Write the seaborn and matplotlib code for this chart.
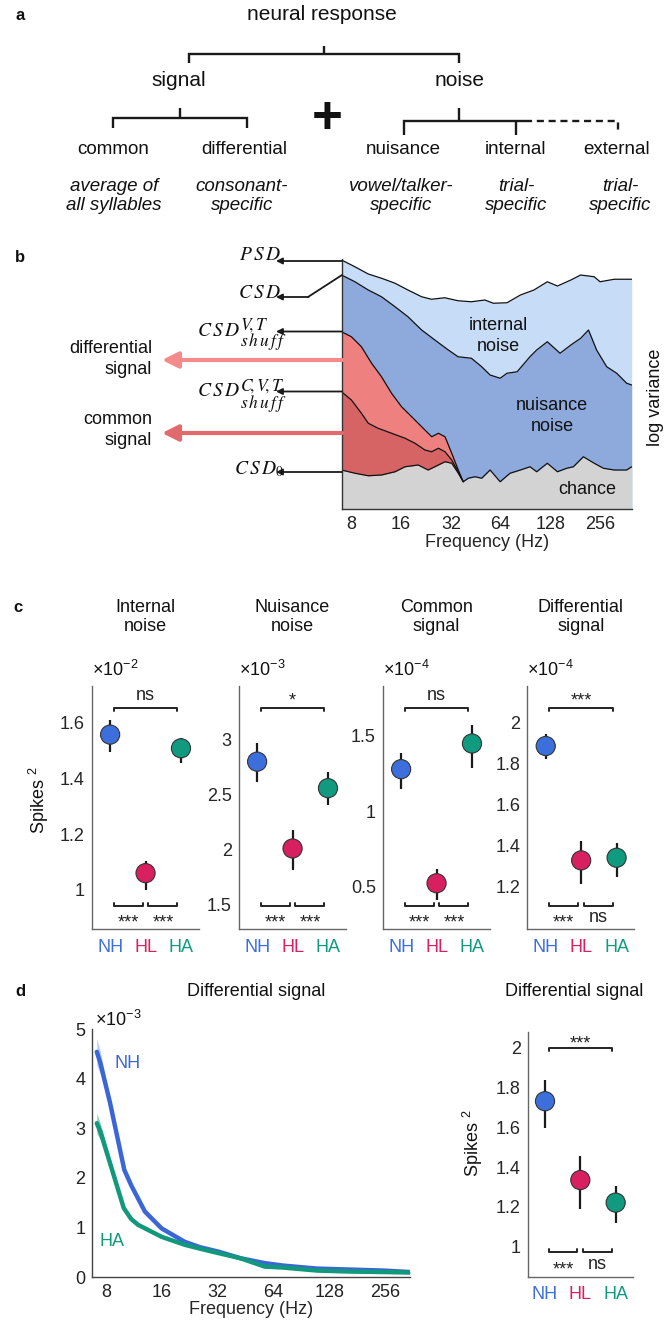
import numpy as np
import matplotlib
matplotlib.use('Agg')
import matplotlib.pyplot as plt
import matplotlib.transforms as mtransforms
from matplotlib.ticker import FormatStrFormatter, NullFormatter
import seaborn as sns

# ---------------- data ----------------
groups = ['NH', 'HL', 'HA']
group_colors = ['#3d6fdc', '#d81f5f', '#109a80']

# panel b: schematic spectra (log variance, arbitrary units)
psd_freq = [6.97, 8.40, 10.12, 12.17, 14.7, 17.6, 21.3, 24.4, 29.4, 35.4, 42.6, 51.4, 57.9, 70.0,
            84.4, 101.9, 122.8, 141.4, 170.5, 195.5, 236, 256, 312, 398]
psd_logvar = [9.96, 9.69, 9.40, 9.23, 9.03, 8.76, 8.49, 8.39, 8.45, 8.33, 8.29, 8.36, 8.23, 8.25,
              8.56, 8.76, 9.09, 8.92, 9.16, 9.36, 9.29, 9.09, 9.19, 9.19]
csd_freq = [6.97, 8.40, 10.12, 12.17, 14.7, 17.6, 21.3, 25.6, 30.9, 35.4, 42.6, 49.2, 55.3, 63.6,
            70.0, 80.6, 96.4, 105.9, 122.8, 146.6, 170.5, 195.5, 218, 244, 281, 323, 371, 398]
csd_logvar = [9.36, 9.09, 8.76, 8.49, 8.09, 7.69, 7.16, 6.76, 6.36, 6.09, 6.03, 5.69, 5.36, 5.23,
              5.43, 5.49, 6.09, 6.36, 6.69, 6.23, 6.56, 6.83, 7.16, 6.36, 5.69, 5.43, 5.03, 4.96]
vt_freq = [6.97, 8.0, 9.2, 10.6, 12.17, 14.0, 16.1, 19.4, 22.3, 24.5, 26.9, 29.5, 32.4, 35.5, 38.0]
vt_logvar = [7.09, 6.89, 6.49, 5.83, 5.29, 4.63, 4.09, 3.56, 3.16, 2.89, 3.03, 2.89, 2.23, 1.56, 1.09]
cvt_freq = [6.97, 8.0, 9.2, 10.12, 11.6, 14.0, 16.9, 19.4, 22.3, 24.5, 26.9, 29.5, 32.4, 35.5, 38.0]
cvt_logvar = [4.69, 4.36, 3.83, 3.43, 3.23, 3.03, 2.83, 2.63, 2.36, 2.29, 2.43, 2.29, 1.96, 1.49, 1.09]
chance_freq = [6.97, 8.40, 10.12, 12.17, 14.7, 16.9, 20.3, 23.3, 25.6, 29.5, 32.4, 35.5, 38.0, 40.8,
               44.8, 49.2, 55.3, 63.6, 73.0, 84.4, 96.4, 105.9, 122.8, 141.4, 161, 176.5, 202.9,
               236, 268, 312, 371, 398]
chance_logvar = [1.56, 1.43, 1.33, 1.36, 1.49, 1.69, 1.76, 1.56, 1.69, 1.89, 1.83, 1.43, 1.09, 1.23,
                 1.29, 1.23, 1.56, 1.09, 1.43, 1.56, 1.69, 1.49, 1.83, 1.49, 1.63, 1.69, 2.09,
                 1.83, 1.63, 1.56, 1.56, 1.69]
b_ticks = [0.63, 1.49, 2.29, 3.09, 3.83, 4.69, 5.96, 7.09, 8.29, 9.36]

# panel c: mean and error-bar ends per group
internal_mean = [1.556, 1.06, 1.507]
internal_lo = [1.492, 1.0, 1.454]
internal_hi = [1.608, 1.102, 1.543]
nuisance_mean = [2.795, 2.009, 2.555]
nuisance_lo = [2.615, 1.817, 2.40]
nuisance_hi = [2.967, 2.172, 2.70]
common_mean = [1.279, 0.523, 1.449]
common_lo = [1.146, 0.41, 1.288]
common_hi = [1.389, 0.616, 1.569]
diffc_mean = [1.886, 1.326, 1.339]
diffc_lo = [1.824, 1.211, 1.246]
diffc_hi = [1.943, 1.42, 1.41]

# panel d: differential signal spectra (x1e-3)
nh_freq = [7.16, 7.5, 8.44, 10.07, 11.0, 13.0, 16.0, 21.3, 25.8, 32.5, 42.4, 57.5, 72.5, 109.7, 165.8, 251, 349]
nh_spec = [4.54, 4.30, 3.51, 2.16, 1.84, 1.32, 0.98, 0.71, 0.60, 0.51, 0.38, 0.28, 0.23, 0.17, 0.15, 0.13, 0.10]
nh_sem = [0.27, 0.22, 0.05, 0.04, 0.03, 0.03, 0.03, 0.02, 0.02, 0.02, 0.02, 0.02, 0.02, 0.02, 0.02, 0.02, 0.02]
ha_freq = [7.16, 7.5, 10.0, 10.96, 11.97, 16.0, 21.3, 25.8, 32.5, 42.4, 57.5, 72.5, 109.7, 165.8, 251, 349]
ha_spec = [3.10, 2.92, 1.39, 1.17, 1.05, 0.81, 0.65, 0.57, 0.48, 0.38, 0.21, 0.19, 0.13, 0.11, 0.10, 0.09]
ha_sem = [0.20, 0.16, 0.04, 0.03, 0.03, 0.03, 0.02, 0.02, 0.02, 0.02, 0.02, 0.02, 0.02, 0.02, 0.02, 0.02]
diffd_mean = [1.731, 1.335, 1.222]
diffd_lo = [1.595, 1.19, 1.122]
diffd_hi = [1.837, 1.456, 1.307]

freq_ticks = [8, 16, 32, 64, 128, 256]

# ---------------- style ----------------
sns.set_theme(style='white')
plt.rcParams['font.family'] = ['Liberation Sans', 'DejaVu Sans']
plt.rcParams['mathtext.fontset'] = 'custom'
plt.rcParams['mathtext.rm'] = 'Liberation Sans'
plt.rcParams['mathtext.it'] = 'Liberation Sans:italic'
plt.rcParams['mathtext.bf'] = 'Liberation Sans:bold'
plt.rcParams['text.color'] = '#111111'

FS = 13
W, H = 668, 1325
fig = plt.figure(figsize=(W / 100, H / 100), dpi=100)


def add_ax(l, t, r, b):
    return fig.add_axes([l / W, 1 - b / H, (r - l) / W, (b - t) / H])


# overlay in pixel coordinates for diagram and annotations
ov = fig.add_axes([0, 0, 1, 1], zorder=10)
ov.set_xlim(0, W)
ov.set_ylim(H, 0)
ov.axis('off')
ov.patch.set_alpha(0)

# ---------------- panel a ----------------
ov.text(15, 15, 'a', fontsize=12, fontweight='bold', va='center')
ov.text(322, 15, 'neural response', fontsize=15, ha='center', va='center')
lk = dict(color='k', lw=1.7, solid_joinstyle='miter', solid_capstyle='butt')
ov.plot([189, 189, 459, 459], [63, 54, 54, 63], **lk)
ov.plot([324, 324], [54, 46], **lk)
ov.text(179, 80, 'signal', fontsize=15, ha='center', va='center')
ov.text(460, 80, 'noise', fontsize=15, ha='center', va='center')
ov.plot([113, 113, 247, 247], [128, 118, 118, 128], **lk)
ov.plot([180, 180], [118, 108], **lk)
ov.text(327, 119, '+', fontsize=38, fontweight='bold', ha='center', va='center')
ov.plot([404, 404, 525], [135, 121, 121], **lk)
ov.plot([459, 459], [121, 108], **lk)
ov.plot([516, 516], [121, 135], **lk)
ov.plot([525, 618, 618], [121, 121, 132], color='k', lw=1.7, ls=(0, (3, 2)))
for x, lab in zip([113, 244, 403, 515, 617], ['common', 'differential', 'nuisance', 'internal', 'external']):
    ov.text(x, 150, lab, fontsize=13.5, ha='center', va='center')
for x, lab in zip([114, 242, 401, 516, 620],
                  ['average of\nall syllables', 'consonant-\nspecific', 'vowel/talker-\nspecific',
                   'trial-\nspecific', 'trial-\nspecific']):
    ov.text(x, 196, lab, fontsize=13.5, style='italic', ha='center', va='center', linespacing=1.2)

# ---------------- panel b ----------------
axb = add_ax(341.5, 259, 631.7, 509)
axb.fill_between(psd_freq, 0, psd_logvar, color='#c6dcf7', lw=0)
axb.fill_between(csd_freq, 0, csd_logvar, color='#8eaadc', lw=0)
axb.fill_between(vt_freq, 0, vt_logvar, color='#ef8080', lw=0)
axb.fill_between(cvt_freq, 0, cvt_logvar, color='#d66464', lw=0)
axb.fill_between(chance_freq, 0, chance_logvar, color='#d3d3d3', lw=0)
for f, v in [(psd_freq, psd_logvar), (csd_freq, csd_logvar), (vt_freq, vt_logvar),
             (cvt_freq, cvt_logvar), (chance_freq, chance_logvar)]:
    sns.lineplot(x=f, y=v, color='#111111', lw=0.9, ax=axb, sort=False)
axb.set_xscale('log', base=2)
axb.set_xlim(6.97, 398)
axb.set_ylim(0, 10)
axb.set_xticks(freq_ticks)
axb.set_xticklabels([str(t) for t in freq_ticks])
axb.xaxis.set_minor_formatter(NullFormatter())
axb.set_yticks(b_ticks)
axb.set_yticklabels([])
axb.tick_params(direction='in', length=3, width=0.8, labelsize=FS, colors='#222222', pad=5)
axb.tick_params(axis='x', which='minor', length=0)
for s in ['top', 'right']:
    axb.spines[s].set_visible(False)
for s in ['left', 'bottom']:
    axb.spines[s].set_color('#333333')
    axb.spines[s].set_linewidth(1)
axb.set_xlabel('Frequency (Hz)', fontsize=FS, labelpad=1)
axb.set_ylabel('')

ov.text(15, 258, 'b', fontsize=12, fontweight='bold', va='center')
ak = dict(arrowstyle='-|>', color='k', lw=1.3, mutation_scale=9, shrinkA=0, shrinkB=0)
ov.annotate('', xy=(276, 261), xytext=(342, 261), arrowprops=ak)
ov.plot([342, 308], [275, 297], color='k', lw=1.3)
ov.annotate('', xy=(276, 297), xytext=(308.5, 297), arrowprops=ak)
ov.annotate('', xy=(276, 331.5), xytext=(342, 331.5), arrowprops=ak)
ov.annotate('', xy=(276, 391.5), xytext=(342, 391.5), arrowprops=ak)
ov.annotate('', xy=(276, 472), xytext=(342, 472), arrowprops=ak)
mk = dict(fontsize=14, math_fontfamily='stix', va='center')
ov.text(281, 256, r'$P\,S\,D$', ha='right', **mk)
ov.text(281, 293, r'$C\,S\,D$', ha='right', **mk)
ov.text(240, 332, r'$C\,S\,D$', ha='right', **mk)
ov.text(240, 325, r'$V\!,T$', ha='left', fontsize=12.5, math_fontfamily='stix', va='center')
ov.text(240, 342, r'$s\,h\,u\,f\,f$', ha='left', fontsize=12.5, math_fontfamily='stix', va='center')
ov.text(240, 392, r'$C\,S\,D$', ha='right', **mk)
ov.text(240, 386, r'$C\!,V\!,T$', ha='left', fontsize=12.5, math_fontfamily='stix', va='center')
ov.text(240, 403, r'$s\,h\,u\,f\,f$', ha='left', fontsize=12.5, math_fontfamily='stix', va='center')
ov.text(284, 469, r'$C\,S\,D_0$', ha='right', **mk)
ov.annotate('', xy=(162, 360), xytext=(342, 360),
            arrowprops=dict(arrowstyle='-|>', color='#f48a8a', lw=3, mutation_scale=24, shrinkA=0, shrinkB=0))
ov.annotate('', xy=(162, 433), xytext=(342, 433),
            arrowprops=dict(arrowstyle='-|>', color='#e06a6c', lw=3, mutation_scale=24, shrinkA=0, shrinkB=0))
ov.text(152, 359, 'differential\nsignal', fontsize=FS, ha='right', va='center', linespacing=1.25)
ov.text(152, 430, 'common\nsignal', fontsize=FS, ha='right', va='center', linespacing=1.25)
ov.text(498, 336, 'internal\nnoise', fontsize=FS, ha='center', va='center', linespacing=1.25)
ov.text(552, 416, 'nuisance\nnoise', fontsize=FS, ha='center', va='center', linespacing=1.25)
ov.text(587, 490, 'chance', fontsize=FS, ha='center', va='center')
ov.text(656, 397, 'log variance', fontsize=FS, ha='center', va='center', rotation=90)


# ---------------- point panels ----------------
def point_panel(ax, means, lo, hi, ylim, yticks, fmt, top_lab, bot_labs, top_px, bot_px, top_txt_px, bot_txt_px):
    xs = [1, 2, 3]
    ax.vlines(xs, lo, hi, color='#1a1a1a', lw=1.6, zorder=2)
    sns.scatterplot(x=xs, y=means, hue=groups, palette=group_colors, s=190,
                    edgecolor='#333333', linewidth=0.8, legend=False, ax=ax, zorder=3)
    ax.set_xlim(0.48, 3.5)
    ax.set_ylim(*ylim)
    ax.set_yticks(yticks)
    ax.yaxis.set_major_formatter(FormatStrFormatter(fmt))
    ax.set_xticks(xs)
    ax.set_xticklabels(groups)
    for t, c in zip(ax.get_xticklabels(), group_colors):
        t.set_color(c)
    ax.tick_params(direction='out', length=3, width=0.8, labelsize=FS, color='#555555', pad=2)
    ax.tick_params(axis='x', pad=4)
    for s in ['top', 'right']:
        ax.spines[s].set_visible(False)
    for s in ['left', 'bottom']:
        ax.spines[s].set_color('#666666')
        ax.spines[s].set_linewidth(1)
    h_px = ax.get_position().height * H
    tr = mtransforms.blended_transform_factory(ax.transData, ax.transAxes)
    d = 3 / h_px
    yt = top_px / h_px
    ax.plot([1.1, 1.1, 2.9, 2.9], [yt - d, yt, yt, yt - d], color='#222222', lw=1.4, transform=tr, clip_on=False)
    yb = bot_px / h_px
    for x0, x1 in [(1.1, 1.92), (2.08, 2.9)]:
        ax.plot([x0, x0, x1, x1], [yb + d, yb, yb, yb + d], color='#222222', lw=1.4, transform=tr, clip_on=False)

    def sig_text(x, yc_px, lab):
        off = 10.0 if '*' in lab else 4.5
        ax.text(x, (yc_px - off) / h_px, lab, transform=tr, ha='center', va='baseline',
                fontsize=FS, color='#222222')
    sig_text(2.0, top_txt_px, top_lab)
    sig_text(1.51, bot_txt_px, bot_labs[0])
    sig_text(2.49, bot_txt_px, bot_labs[1])
    ax.set_xlabel('')
    ax.set_ylabel('')


c_lefts = [91.7, 238.7, 382.7, 527.3]
c_titles = ['Internal\nnoise', 'Nuisance\nnoise', 'Common\nsignal', 'Differential\nsignal']
c_scale = ['-2', '-3', '-4', '-4']
c_data = [
    (internal_mean, internal_lo, internal_hi, (0.86, 1.73), [1, 1.2, 1.4, 1.6], '%g', 'ns', ['***', '***']),
    (nuisance_mean, nuisance_lo, nuisance_hi, (1.28, 3.48), [1.5, 2, 2.5, 3], '%g', '*', ['***', '***']),
    (common_mean, common_lo, common_hi, (0.22, 1.83), [0.5, 1, 1.5], '%g', 'ns', ['***', '***']),
    (diffc_mean, diffc_lo, diffc_hi, (0.99, 2.18), [1.2, 1.4, 1.6, 1.8, 2], '%g', '***', ['***', 'ns']),
]
ov.text(13, 607, 'c', fontsize=12, fontweight='bold', va='center')
for left, title, sc, dat in zip(c_lefts, c_titles, c_scale, c_data):
    ax = add_ax(left, 686, left + 107, 929)
    point_panel(ax, *dat, top_px=221, bot_px=23, top_txt_px=234, bot_txt_px=12)
    ov.text(left + 53.5, 617, title, fontsize=FS, ha='center', va='center', linespacing=1.2)
    ov.text(left, 670, '×10$^{' + sc + '}$', fontsize=FS, ha='left', va='center')
ov.text(39, 800, 'Spikes $^2$', fontsize=FS, rotation=90, ha='center', va='center')

# ---------------- panel d ----------------
ov.text(15, 992, 'd', fontsize=12, fontweight='bold', va='center')
axd = add_ax(92.3, 1029, 410, 1277)
nh_c, ha_c = '#3a66d8', '#12987c'
axd.fill_between(nh_freq, np.array(nh_spec) - nh_sem, np.array(nh_spec) + nh_sem, color='#b3cff4', lw=0)
axd.fill_between(ha_freq, np.array(ha_spec) - ha_sem, np.array(ha_spec) + ha_sem, color='#86cbb6', lw=0)
sns.lineplot(x=nh_freq, y=nh_spec, color=nh_c, lw=3.2, ax=axd)
sns.lineplot(x=ha_freq, y=ha_spec, color=ha_c, lw=3.2, ax=axd)
axd.set_xscale('log', base=2)
axd.set_xlim(6.77, 349)
axd.set_ylim(0, 5)
axd.set_xticks(freq_ticks)
axd.set_xticklabels([str(t) for t in freq_ticks])
axd.xaxis.set_minor_formatter(NullFormatter())
axd.tick_params(axis='x', which='minor', length=0)
axd.set_yticks([0, 1, 2, 3, 4, 5])
axd.tick_params(direction='in', length=3, width=0.8, labelsize=FS, colors='#222222', pad=5)
for s in ['top', 'right']:
    axd.spines[s].set_visible(False)
for s in ['left', 'bottom']:
    axd.spines[s].set_color('#444444')
    axd.spines[s].set_linewidth(1)
axd.set_xlabel('Frequency (Hz)', fontsize=FS, labelpad=0)
axd.set_ylabel('')
ov.text(95, 1020, '×10$^{-3}$', fontsize=FS, ha='left', va='center')
ov.text(128, 1064, 'NH', fontsize=FS, color=nh_c, ha='center', va='center')
ov.text(112, 1242, 'HA', fontsize=FS, color=ha_c, ha='center', va='center')
ov.text(256, 992, 'Differential signal', fontsize=FS, ha='center', va='center')

axd2 = add_ax(527.7, 1031.7, 633.3, 1276.7)
point_panel(axd2, diffd_mean, diffd_lo, diffd_hi, (0.85, 2.08), [1, 1.2, 1.4, 1.6, 1.8, 2], '%g',
            '***', ['***', 'ns'], top_px=228.4, bot_px=24.7, top_txt_px=238.7, bot_txt_px=12.5)
axd2.set_xlim(0.51, 3.5)
ov.text(574, 992, 'Differential signal', fontsize=FS, ha='center', va='center')
ov.text(473, 1143, 'Spikes $^2$', fontsize=FS, rotation=90, ha='center', va='center')

fig.savefig('out.png', dpi=100)
